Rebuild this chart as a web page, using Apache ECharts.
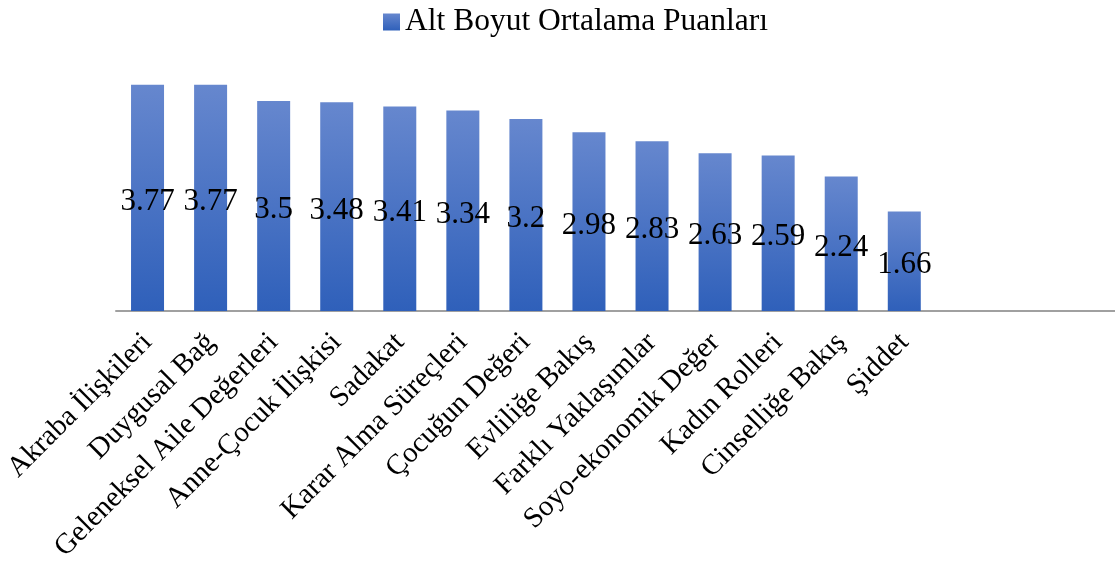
<!DOCTYPE html>
<html style="height: 100%">
<head>
<meta charset="utf-8">
<script src="https://cdn.jsdelivr.net/npm/echarts@6/dist/echarts.min.js"></script>
</head>
<body style="height: 100%; margin: 0; background: #fff; overflow: hidden">
<div id="container" style="width: 1125px; height: 567px"></div>
<script type="text/javascript">
var categories = ['Akraba İlişkileri', 'Duygusal Bağ', 'Geleneksel Aile Değerleri', 'Anne-Çocuk İlişkisi',
    'Sadakat', 'Karar Alma Süreçleri', 'Çocuğun Değeri', 'Evliliğe Bakış', 'Farklı Yaklaşımlar',
    'Soyo-ekonomik Değer', 'Kadın Rolleri', 'Cinselliğe Bakış', 'Şiddet', '', '', ''];
var puanlar = [3.77, 3.77, 3.5, 3.48, 3.41, 3.34, 3.2, 2.98, 2.83, 2.63, 2.59, 2.24, 1.66, null, null, null];
var seriesName = 'Alt Boyut Ortalama Puanları';

var font = '"Liberation Serif", "Times New Roman", serif';
var barColor = new echarts.graphic.LinearGradient(0, 0, 0, 1, [
    { offset: 0, color: '#6687ce' },
    { offset: 1, color: '#2f60ba' }
]);

var myChart = echarts.init(document.getElementById('container'));
var option = {
    animation: false,
    textStyle: { fontFamily: font },
    legend: {
        top: 1,
        left: 378,
        itemWidth: 17,
        itemHeight: 17,
        itemGap: 6,
        icon: 'rect',
        textStyle: { fontFamily: font, fontSize: 31.5, color: '#000' },
        data: [seriesName]
    },
    grid: {
        left: 116,
        right: 0,
        top: 71,
        bottom: 256,
        containLabel: false
    },
    xAxis: {
        type: 'category',
        data: categories,
        axisLine: { lineStyle: { color: '#a0a0a0', width: 2 } },
        axisTick: { show: false },
        axisLabel: {
            interval: 0,
            rotate: 45,
            margin: 27,
            fontFamily: font,
            fontSize: 29,
            color: '#000'
        }
    },
    yAxis: {
        type: 'value',
        min: 0,
        max: 4,
        show: false
    },
    series: [{
        name: seriesName,
        type: 'bar',
        data: puanlar,
        barWidth: 33,
        itemStyle: { color: barColor },
        label: {
            show: true,
            position: 'inside',
            offset: [0, 4],
            fontFamily: font,
            fontSize: 31,
            color: '#000'
        }
    }]
};
myChart.setOption(option);
</script>
</body>
</html>
